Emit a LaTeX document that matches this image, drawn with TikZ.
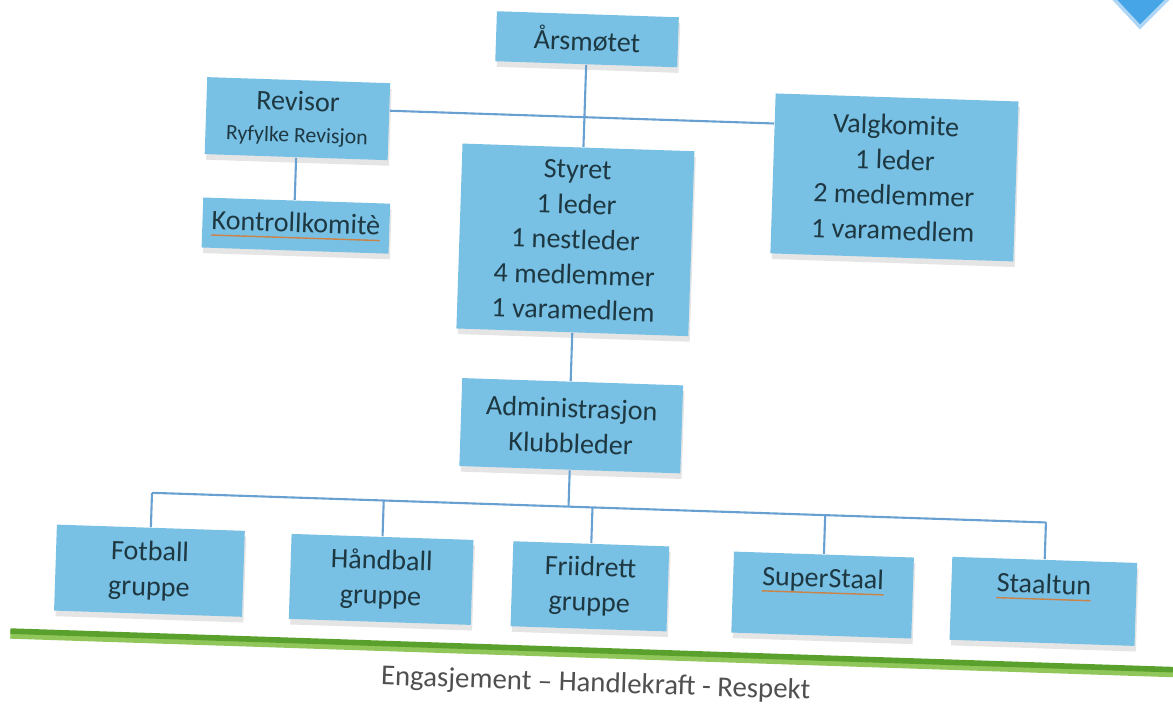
\documentclass[tikz,border=0pt]{standalone}
\usepackage{fontspec}
\setmainfont{Carlito}
\usetikzlibrary{calc,shadows}
\definecolor{boxblue}{RGB}{120,192,228}
\definecolor{boxtext}{RGB}{30,56,66}
\definecolor{linkblue}{RGB}{105,160,210}
\definecolor{barg}{RGB}{90,160,45}
\definecolor{barl}{RGB}{145,198,90}
\definecolor{mottoc}{RGB}{80,80,80}
\definecolor{spellc}{RGB}{205,130,70}
\definecolor{markblue}{RGB}{70,165,230}
\definecolor{markedge}{RGB}{175,215,245}
\newcommand\spellu[1]{\setbox0\hbox{#1}\rlap{\textcolor{spellc}{\rule[-1.8pt]{\wd0}{0.4pt}}}\box0}
\tikzset{
  orgbox/.style={fill=boxblue, text=boxtext, align=center, inner sep=0pt,
    font=\fontsize{8}{10}\selectfont,
    drop shadow={shadow xshift=0.4pt, shadow yshift=-1.6pt, opacity=0.10, fill=black}},
  link/.style={draw=linkblue, line width=0.6pt},
}
\begin{document}
\begin{tikzpicture}
\clip (0,0) rectangle (11.73,7.05);
\fill[white] (0,0) rectangle (11.73,7.05);
% corner mark
\filldraw[fill=markblue, draw=markedge, line width=1pt] (11.12,7.08) -- (11.40,6.78) -- (11.70,7.08) -- cycle;
\begin{scope}[x=0.01cm, y=0.01cm, rotate around={-1.9:(586,353)}, transform shape]
  \node[orgbox, minimum width=1.82cm, minimum height=0.50cm] (ars) at (577,666) {Årsmøtet};
  \node[orgbox, minimum width=1.83cm, minimum height=0.77cm] (rev) at (290,577)
    {Revisor\\[-1pt]{\fontsize{6.2}{9.7}\selectfont Ryfylke Revisjon}};
  \node[orgbox, minimum width=1.87cm, minimum height=0.50cm] (kon) at (292,470) {\spellu{Kontrollkomitè}};
  \node[orgbox, minimum width=2.32cm, minimum height=1.85cm] (sty) at (572,465)
    {Styret\\1 leder\\1 nestleder\\4 medlemmer\\1 varamedlem};
  \node[orgbox, minimum width=2.43cm, minimum height=1.60cm] (val) at (889,538)
    {Valgkomite\\1 leder\\2 medlemmer\\1 varamedlem};
  \node[orgbox, minimum width=2.21cm, minimum height=0.88cm] (adm) at (574,279)
    {Administrasjon\\Klubbleder};
  \node[orgbox, minimum width=1.88cm, minimum height=0.86cm] (fot) at (157,120) {Fotball\\gruppe};
  \node[orgbox, minimum width=1.82cm, minimum height=0.85cm] (han) at (389,119) {Håndball\\gruppe};
  \node[orgbox, minimum width=1.56cm, minimum height=0.85cm] (fri) at (598,119) {Friidrett\\gruppe};
  \node[orgbox, minimum width=1.80cm, minimum height=0.81cm] (sup) at (831,118) {\spellu{SuperStaal}\\\mbox{}};
  \node[orgbox, minimum width=1.85cm, minimum height=0.83cm] (sta) at (1052,119) {\spellu{Staaltun}\\\mbox{}};
  \coordinate (hy) at (0,588);
  \coordinate (bus) at (0,198);
  % connectors
  \draw[link] (ars.south) -- (ars.south |- sty.north);
  \draw[link] (rev.east |- hy) -- (val.west |- hy);
  \draw[link] (rev.south) -- (rev.south |- kon.north);
  \draw[link] (sty.south) -- (sty.south |- adm.north);
  \draw[link] (adm.south) -- (adm.south |- bus);
  \draw[link] (fot.north |- bus) -- (sta.north |- bus);
  \foreach \b in {fot,han,fri,sup,sta}
    \draw[link] (\b.north |- bus) -- (\b.north);
  % green bar
  \coordinate (gl) at (20,54);
  \coordinate (gr) at (1200,54);
  \draw[barl, line width=2.6pt] ($(gl)+(0,-2)$) -- ($(gr)+(0,-2)$);
  \draw[barg, line width=1.6pt] ($(gl)+(0,1)$) -- ($(gr)+(0,1)$);
  \node[text=mottoc, font=\fontsize{8.2}{10}\selectfont, inner sep=0pt] (motto) at (607,21)
    {Engasjement – Handlekraft - Respekt};
\end{scope}
\end{tikzpicture}
\end{document}
